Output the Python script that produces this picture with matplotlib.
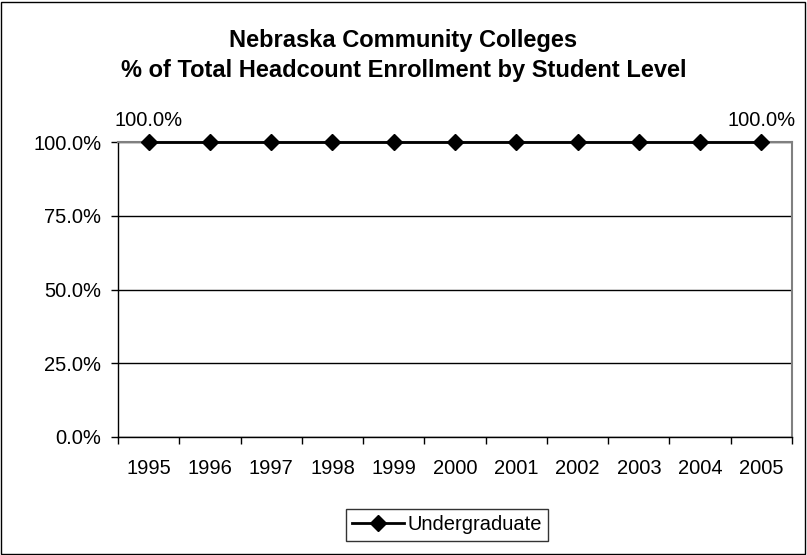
import numpy as np
import matplotlib.pyplot as plt
from matplotlib.ticker import FixedLocator, PercentFormatter

plt.rcParams['font.family'] = ['Liberation Sans', 'DejaVu Sans']

# Data
years = ['1995', '1996', '1997', '1998', '1999', '2000',
         '2001', '2002', '2003', '2004', '2005']
undergrad = [100.0, 100.0, 100.0, 100.0, 100.0, 100.0,
             100.0, 100.0, 100.0, 100.0, 100.0]
y_ticks = [0, 25, 50, 75, 100]

W, H = 807, 555
fig = plt.figure(figsize=(W / 100, H / 100), dpi=100)
fig.patch.set_facecolor('white')

# outer chart border
fig.add_artist(plt.Rectangle((1 / W, 1 / H), 1 - 3 / W, 1 - 3 / H,
                             transform=fig.transFigure, fill=False,
                             edgecolor='black', linewidth=1.0))

# plot area in pixels
left, right, top, bottom = 118, 792, 142, 437
ax = fig.add_axes([left / W, 1 - bottom / H, (right - left) / W, (bottom - top) / H])

x = np.arange(len(years))
ax.plot(x, undergrad, color='black', linewidth=2, marker='D', markersize=8.5,
        label='Undergraduate', zorder=5, clip_on=False)

# labels on first and last point only
for i in (0, len(years) - 1):
    ax.annotate(f'{undergrad[i]:.1f}%', (x[i], undergrad[i]), xytext=(0, 9),
                textcoords='offset points', ha='center', va='bottom', fontsize=14.5)

ax.set_xlim(-0.5, len(years) - 0.5)
ax.set_ylim(0, 100)

ax.set_yticks(y_ticks)
ax.yaxis.set_major_formatter(PercentFormatter(decimals=1))
ax.grid(axis='y', color='black', linewidth=1)
ax.set_axisbelow(True)

ax.set_xticks(x)
ax.set_xticklabels(years)
ax.xaxis.set_minor_locator(FixedLocator(np.arange(-0.5, len(years), 1.0)))
ax.tick_params(axis='x', which='major', length=0, pad=16, labelsize=14.5)
ax.tick_params(axis='x', which='minor', length=5, width=1, color='black', direction='out')
ax.tick_params(axis='y', length=5, width=1, color='black', labelsize=14.5, pad=7)

for side in ('top', 'right'):
    ax.spines[side].set_color('#808080')
    ax.spines[side].set_linewidth(1.5)
for side in ('left', 'bottom'):
    ax.spines[side].set_color('black')
    ax.spines[side].set_linewidth(1)

fig.text(0.5, 1 - 40 / H, 'Nebraska Community Colleges', ha='center', va='center',
         fontsize=17, fontweight='bold')
fig.text(0.5, 1 - 70 / H, '% of Total Headcount Enrollment by Student Level',
         ha='center', va='center', fontsize=17, fontweight='bold')

leg = fig.legend(loc='center', bbox_to_anchor=(447 / W, 1 - 525 / H), fontsize=14.5,
                 frameon=True, fancybox=False, edgecolor='black', handlelength=2.6,
                 borderpad=0.3, handletextpad=0.2, borderaxespad=0)
leg.get_frame().set_linewidth(1)

fig.savefig('out.png', dpi=100)
